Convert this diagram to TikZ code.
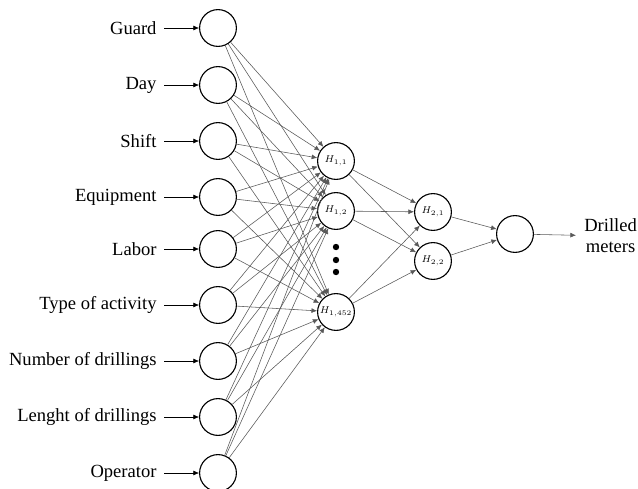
\documentclass[tikz,border=0pt]{standalone}
\usepackage{fontspec}
\setmainfont{Liberation Serif}
\usetikzlibrary{arrows.meta}

\begin{document}
\begin{tikzpicture}[x=0.025cm, y=-0.025cm,
    neuron/.style={draw, thick, circle, minimum size=0.92cm, inner sep=0pt, font=\scriptsize},
    feature/.style={anchor=east, inner sep=0.18cm, font=\fontsize{13.2}{15}\selectfont},
    link/.style={draw=black!65, -{Latex[length=4pt,width=3.5pt]}}]
    \useasboundingbox (0,0) rectangle (638,488);

    % input layer
    \foreach \y/\txt [count=\i] in {28/Guard, 85/Day, 141/Shift, 197/Equipment, 249/Labor,
        305/Type of activity, 361/Number of drillings, 417/Lenght of drillings, 473/Operator} {
        \node[neuron] (in\i) at (218,\y) {};
        \node[feature] (lab\i) at (164,\y) {\txt};
        \draw[-{Latex[length=4pt,width=3.5pt]}] (lab\i) -- (in\i);
    }

    % hidden layers
    \node[neuron] (h1) at (336,161) {$H_{1,1}$};
    \node[neuron] (h2) at (336,211) {$H_{1,2}$};
    \node[neuron] (h3) at (336,312) {$H_{1,452}$};
    \foreach \y in {247,260,272}
        \fill (336,\y) circle (3.2);

    \node[neuron] (g1) at (433,212) {$H_{2,1}$};
    \node[neuron] (g2) at (433,261) {$H_{2,2}$};

    % output
    \node[neuron] (out) at (515,234) {};
    \node[anchor=west, align=center, inner sep=0.2cm, font=\fontsize{13.2}{15}\selectfont] (res) at (576,236) {Drilled\\meters};

    \foreach \i in {1,...,9}
        \foreach \j in {1,2,3}
            \draw[link] (in\i) -- (h\j);
    \foreach \j in {1,2,3}
        \foreach \k in {1,2}
            \draw[link] (h\j) -- (g\k);
    \foreach \k in {1,2}
        \draw[link] (g\k) -- (out);
    \draw[link] (out) -- (res);
\end{tikzpicture}
\end{document}
